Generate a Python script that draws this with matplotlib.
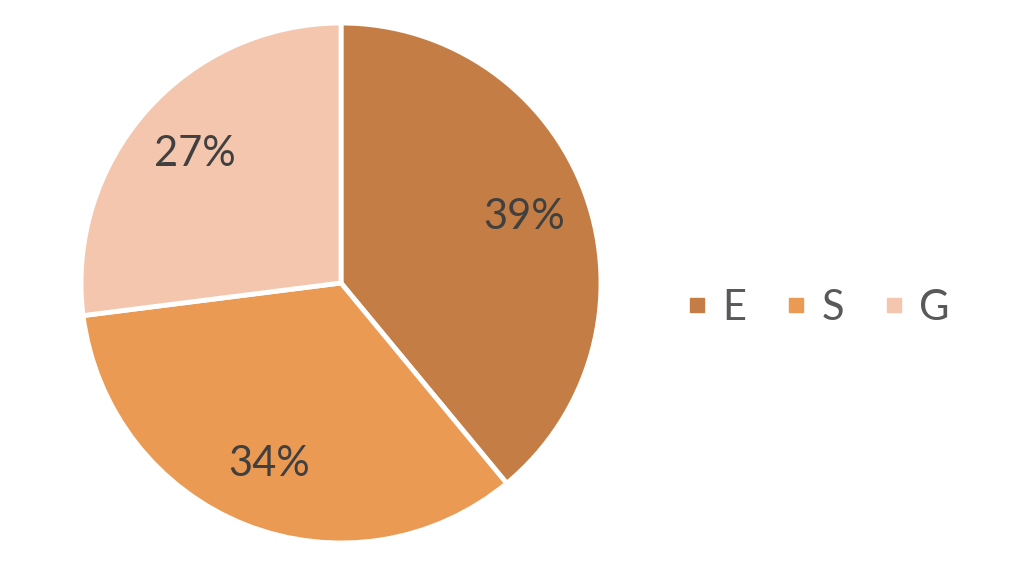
import matplotlib.pyplot as plt
from matplotlib.lines import Line2D

labels = ["E", "S", "G"]
shares = [39, 34, 27]
colors = ["#C47E45", "#EB9A53", "#F3C6AD"]

plt.rcParams['font.family'] = ['Lato', 'DejaVu Sans']

fig = plt.figure(figsize=(10.24, 5.78), dpi=100)
ax = fig.add_axes([81 / 1024, 35 / 578, 520 / 1024, 520 / 578])

wedges, texts, autotexts = ax.pie(
    shares,
    colors=colors,
    startangle=90,
    counterclock=False,
    autopct='%d%%',
    pctdistance=0.75,
    wedgeprops=dict(edgecolor='white', linewidth=3.5),
    textprops=dict(color='#404040', fontsize=30),
)
ax.set_xlim(-1.0, 1.0)
ax.set_ylim(-1.0, 1.0)
ax.set_aspect('equal')

handles = [Line2D([], [], marker='s', linestyle='none', markersize=10,
                  markerfacecolor=c, markeredgecolor=c) for c in colors]
fig.legend(handles, labels, loc='center', bbox_to_anchor=(818 / 1024, 1 - 308 / 578),
           ncol=3, frameon=False, fontsize=30, labelcolor='#595959',
           handlelength=0.5, handletextpad=0.35, columnspacing=0.95)

fig.savefig("out.png", dpi=100)
